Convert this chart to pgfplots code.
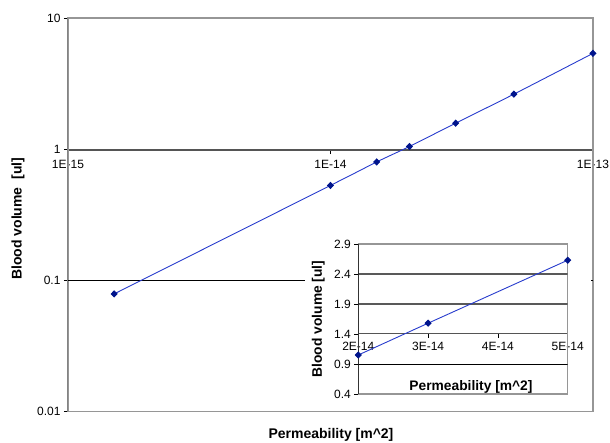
\documentclass[border=0pt]{standalone}
\usepackage{fontspec}
\setmainfont{Liberation Sans}
\usepackage{pgfplots}
\pgfplotsset{compat=1.18}
\definecolor{lineblue}{RGB}{40,60,205}
\definecolor{markblue}{RGB}{0,20,140}
\definecolor{boxgray}{RGB}{150,150,150}
\definecolor{axgray}{RGB}{85,85,85}
\newcommand{\tickfont}{\fontsize{12bp}{14bp}\selectfont}
\newcommand{\labfont}{\bfseries\fontsize{14bp}{16bp}\selectfont}
\newcommand{\ilabfont}{\bfseries\fontsize{13.8bp}{16bp}\selectfont}
\begin{document}
\begin{tikzpicture}
\path[use as bounding box] (0,0) rectangle (610bp,-443bp);
\pgfplotsset{/pgf/number format/assume math mode=true}
% ---------- main chart: x axis crossing at y = 1 ----------
\begin{axis}[
  at={(68bp,-150bp)}, anchor=south west, scale only axis,
  width=525bp, height=132bp,
  xmode=log, xmin=1e-15, xmax=1e-13, ymin=0, ymax=1,
  axis x line*=bottom, axis y line=none,
  x axis line style={draw=axgray, line width=1.6bp, -},
  xtick={1e-15,1e-14,1e-13}, xticklabels={1E-15,1E-14,1E-13},
  xminorticks=false, xtick align=outside, major tick length=4bp,
  tick style={black, line width=0.8bp},
  xticklabel style={font=\tickfont, anchor=north, yshift=-3bp},
]
\end{axis}
% ---------- main chart ----------
\begin{axis}[
  at={(68bp,-411.7bp)}, anchor=south west, scale only axis,
  width=525bp, height=393.7bp,
  xmode=log, ymode=log,
  xmin=1e-15, xmax=1e-13, ymin=0.01, ymax=10,
  axis line style={draw=boxgray, line width=1.2bp},
  xtick=\empty, xminorticks=false, yminorticks=false,
  ytick={0.01,0.1,1,10}, yticklabels={0.01,0.1,1,10},
  ytick pos=left, ytick align=outside, major tick length=4bp,
  tick style={black, line width=0.8bp},
  yticklabel style={font=\tickfont},
  xlabel={Permeability [m\textasciicircum 2]},
  ylabel={Blood volume\ \ [ul]},
  xlabel style={at={(axis description cs:0.501,-0.059)}, anchor=center, font=\labfont},
  ylabel style={at={(axis description cs:-0.0952,0.49)}, anchor=center, rotate=0, font=\labfont},
]
\draw[black, line width=0.8bp] (axis cs:1e-15,0.1) -- (axis cs:1e-13,0.1);
\draw[black, line width=1bp] (rel axis cs:0,0) -- (rel axis cs:0,1);
\addplot[smooth, color=lineblue, line width=0.9bp, mark=diamond*, mark size=3bp,
  mark options={fill=markblue, draw=markblue, xscale=1.3}] coordinates {
  (1.5e-15,0.079) (1e-14,0.53) (1.5e-14,0.80) (2e-14,1.05)
  (3e-14,1.58) (5e-14,2.63) (1e-13,5.38)
};
\end{axis}
% ---------- inset background ----------
\fill[white] (305bp,-228bp) rectangle (590.5bp,-410.8bp);
% ---------- inset x axis crossing at 1.4 ----------
\begin{axis}[
  at={(358.3bp,-333.7bp)}, anchor=south west, scale only axis,
  width=209.4bp, height=89.7bp,
  xmin=2e-14, xmax=5e-14, ymin=0, ymax=1,
  scaled x ticks=false,
  axis x line*=bottom, axis y line=none,
  x axis line style={draw=axgray, line width=1.4bp, -},
  xtick={2e-14,3e-14,4e-14,5e-14}, xticklabels={2E-14,3E-14,4E-14,5E-14},
  xtick align=outside, major tick length=4bp,
  tick style={black, line width=0.8bp},
  xticklabel style={font=\tickfont, anchor=north, yshift=-1bp},
]
\end{axis}
% ---------- inset ----------
\begin{axis}[
  at={(358.3bp,-394bp)}, anchor=south west, scale only axis,
  width=209.4bp, height=150bp,
  xmin=2e-14, xmax=5e-14, ymin=0.4, ymax=2.9,
  scaled x ticks=false,
  axis line style={draw=boxgray, line width=1.2bp},
  xtick=\empty,
  ytick={0.4,0.9,1.4,1.9,2.4,2.9}, yticklabels={0.4,0.9,1.4,1.9,2.4,2.9},
  ytick pos=left, ytick align=outside, major tick length=4bp,
  tick style={black, line width=0.8bp},
  yticklabel style={font=\tickfont},
  xlabel={Permeability [m\textasciicircum 2]},
  ylabel={Blood volume [ul]},
  xlabel style={at={(axis description cs:0.538,0.049)}, anchor=center, font=\ilabfont},
  ylabel style={at={(axis description cs:-0.191,0.5)}, anchor=center, rotate=0, font=\ilabfont},
]
\draw[black!65, line width=1.3bp] (axis cs:2e-14,2.4) -- (axis cs:5e-14,2.4);
\draw[black!65, line width=1.3bp] (axis cs:2e-14,1.9) -- (axis cs:5e-14,1.9);
\draw[black, line width=0.8bp] (axis cs:2e-14,0.9) -- (axis cs:5e-14,0.9);
\draw[black, line width=1bp] (rel axis cs:0,0) -- (rel axis cs:0,1);
\addplot[color=lineblue, line width=0.9bp, mark=diamond*, mark size=3bp,
  mark options={fill=markblue, draw=markblue, xscale=1.3}] coordinates {
  (2e-14,1.05) (3e-14,1.58) (5e-14,2.63)
};
\end{axis}
\end{tikzpicture}
\end{document}
